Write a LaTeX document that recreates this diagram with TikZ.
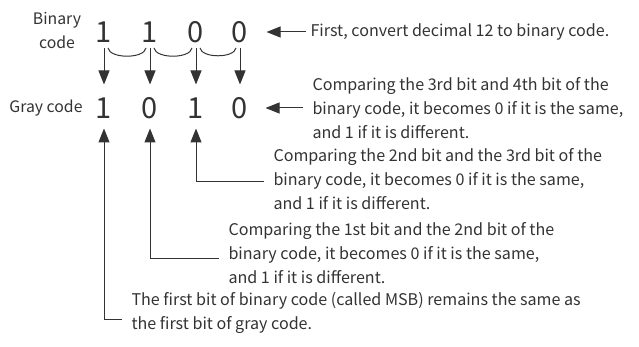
\documentclass[tikz,border=0pt]{standalone}
\usepackage{fontspec}
\setmainfont{Noto Sans CJK JP}
\usetikzlibrary{arrows.meta}
\definecolor{ink}{HTML}{333333}

\begin{document}
\begin{tikzpicture}[x=1pt, y=-1pt, line width=1pt, ink,
  digit/.style={inner sep=0pt, text height=21pt, text depth=0pt, font=\fontsize{29}{29}\selectfont},
  note/.style={anchor=west, align=left, inner xsep=9pt, inner ysep=0pt, font=\fontsize{16.1}{24.1}\selectfont},
  tip/.style={-{Triangle[width=11pt,length=14pt]}}]
\useasboundingbox (0,0) rectangle (639,347);

\node[align=center, font=\fontsize{15.8}{24}\selectfont] (binlabel) at (57,30) {Binary\\code};
\node[font=\fontsize{15.8}{24}\selectfont] (graylabel) at (46,108) {Gray code};

\foreach \x/\b/\g [count=\i] in {104/1/1,150/1/0,196/0/1,240/0/0} {
  \node[digit] (b\i) at (\x,32) {\b};
  \node[digit] (g\i) at (\x,108) {\g};
  \draw[tip] ([yshift=-5.5pt]b\i.south) -- ([yshift=12.5pt]g\i.north);
}
\foreach \i/\j in {1/2,2/3,3/4}
  \draw ([xshift=4pt,yshift=-5pt]b\i.south) to[out=-80,in=-100,looseness=.75] ([xshift=-4pt,yshift=-5pt]b\j.south);

\node[note, inner xsep=4pt] (first) at (306,32) {First, convert decimal 12 to binary code.};
\node[note] (bit34) at (303,108) {Comparing the 3rd bit and 4th bit of the\\binary code, it becomes 0 if it is the same,\\and 1 if it is different.};
\node[note] (bit23) at (264,179) {Comparing the 2nd bit and the 3rd bit of the\\binary code, it becomes 0 if it is the same,\\and 1 if it is different.};
\node[note] (bit12) at (219,253) {Comparing the 1st bit and the 2nd bit of the\\binary code, it becomes 0 if it is the same,\\and 1 if it is different.};
\node[note] (msb) at (122,313) {The first bit of binary code (called MSB) remains the same as\\the first bit of gray code.};

\draw[tip] (first.west) -- ([xshift=18pt]b4.east);
\draw[tip] (bit34.west) -- ([xshift=17pt]g4.east);
\draw[tip] ([yshift=-3pt]bit23.west) -| ([yshift=-9.5pt]g3.south);
\draw[tip] ([yshift=-5pt]bit12.west) -| ([yshift=-9.5pt]g2.south);
\draw[tip] ([yshift=-6pt]msb.west) -| ([yshift=-9.5pt]g1.south);
\end{tikzpicture}
\end{document}
